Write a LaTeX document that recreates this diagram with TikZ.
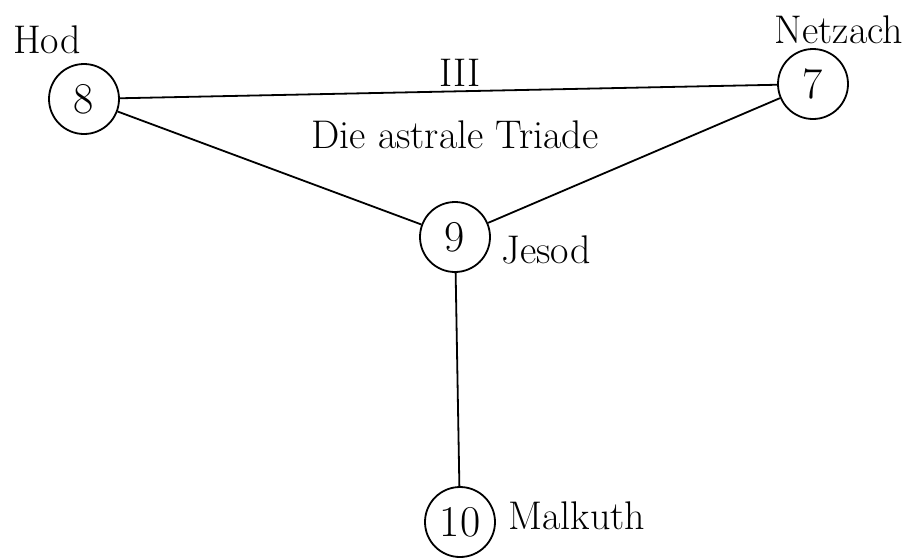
\documentclass[tikz,border=0pt]{standalone}
\usepackage{tikz}
\usetikzlibrary{positioning}
\tikzset{
    sephira-circle/.style = {draw=black, circle, line width=0.9pt, minimum size=35pt, inner sep=0pt, font=\fontsize{22}{26}\selectfont},
    sephira-label/.style = {inner sep=0pt, font=\fontsize{20}{24}\selectfont},
    path-line/.style = {draw=black, line width=0.9pt},
}

\begin{document}
\begin{tikzpicture}[x=0.5pt, y=-0.5pt]
\useasboundingbox (0,0) rectangle (916,559);
\node [sephira-circle] (hod) at (84,99) {8};
\node [sephira-circle] (netzach) at (813,84) {7};
\node [sephira-circle] (jesod) at (455,237) {9};
\node [sephira-circle] (malkuth) at (460,522) {10};

\node [sephira-label] (hod-name) at (47,40) {Hod};
\node [sephira-label] (netzach-name) at (839,30) {Netzach};
\node [sephira-label] (jesod-name) at (546,250) {Jesod};
\node [sephira-label] (malkuth-name) at (577,516) {Malkuth};
\node [sephira-label] (triad-number) at (460,73) {III};
\node [sephira-label] (triad-name) at (455,135) {Die astrale Triade};

\draw [path-line] (hod) -- (netzach);
\draw [path-line] (hod) -- (jesod);
\draw [path-line] (jesod) -- (netzach);
\draw [path-line] (jesod) -- (malkuth);
\end{tikzpicture}
\end{document}
